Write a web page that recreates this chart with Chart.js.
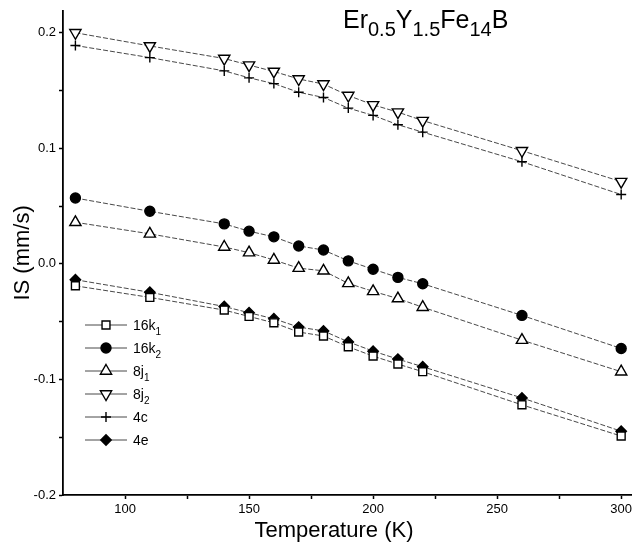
<!DOCTYPE html>
<html lang="en">
<head>
  <meta charset="UTF-8" />
  <title>Er0.5Y1.5Fe14B – isomer shift</title>
  <script src="https://cdn.jsdelivr.net/npm/chart.js"></script>
  <style>
    body { margin: 0; background: #fff; }
    #wrap { width: 639px; height: 547px; }
  </style>
</head>
<body>
<div id="wrap"><canvas id="isChart" width="639" height="547"></canvas></div>
<script>
  // temperatures (K) and isomer shift (mm/s) per Fe site
  const temps = [80, 110, 140, 150, 160, 170, 180, 190, 200, 210, 220, 260, 300];
  const is16k1 = [-0.019, -0.029, -0.040, -0.0455, -0.051, -0.059, -0.0624, -0.0718, -0.0798, -0.0867, -0.0933, -0.122, -0.149];
  const is16k2 = [0.057, 0.0455, 0.0346, 0.0283, 0.0234, 0.0155, 0.012, 0.0026, -0.0046, -0.0117, -0.0172, -0.0446, -0.0732];
  const is8j1 = [0.036, 0.026, 0.0146, 0.0097, 0.0034, -0.0037, -0.006, -0.0169, -0.0238, -0.030, -0.0375, -0.066, -0.0933];
  const is8j2 = [0.200, 0.1886, 0.1777, 0.172, 0.1665, 0.160, 0.1556, 0.1457, 0.1376, 0.1313, 0.124, 0.0979, 0.0712];
  const is4c = [0.189, 0.1785, 0.167, 0.161, 0.156, 0.1485, 0.144, 0.1348, 0.1285, 0.1204, 0.114, 0.0884, 0.060];
  const is4e = [-0.0137, -0.0246, -0.0369, -0.0423, -0.0475, -0.0547, -0.058, -0.0675, -0.0755, -0.0824, -0.089, -0.116, -0.1448];

  const xTicks = [100, 125, 150, 175, 200, 225, 250, 275, 300];
  const xLabels = [100, 150, 200, 250, 300];
  const yTicks = [-0.2, -0.15, -0.1, -0.05, 0, 0.05, 0.1, 0.15, 0.2];
  const yLabels = [-0.2, -0.1, 0, 0.1, 0.2];

  // label parts: [text, isSubscript]
  const seriesNames = [
    [['16k', 0], ['1', 1]],
    [['16k', 0], ['2', 1]],
    [['8j', 0], ['1', 1]],
    [['8j', 0], ['2', 1]],
    [['4c', 0]],
    [['4e', 0]]
  ];
  const titleParts = [['Er', 0], ['0.5', 1], ['Y', 0], ['1.5', 1], ['Fe', 0], ['14', 1], ['B', 0]];
  const xTitle = 'Temperature (K)';

  const FONT = "'Liberation Sans', Arial, sans-serif";
  Chart.defaults.font.family = FONT;
  Chart.defaults.color = '#000';

  function pts(vals) {
    return temps.map((t, i) => ({ x: t, y: vals[i] }));
  }

  const markers = [
    { pointStyle: 'rect', radius: 5.6, bg: '#fff', rot: 0 },
    { pointStyle: 'circle', radius: 5, bg: '#000', rot: 0 },
    { pointStyle: 'triangle', radius: 6.5, bg: '#fff', rot: 0 },
    { pointStyle: 'triangle', radius: 6.5, bg: '#fff', rot: 180 },
    { pointStyle: 'cross', radius: 5, bg: '#000', rot: 0 },
    { pointStyle: 'rectRot', radius: 5.2, bg: '#000', rot: 0 }
  ];
  const allVals = [is16k1, is16k2, is8j1, is8j2, is4c, is4e];

  const datasets = allVals.map((vals, i) => ({
    label: seriesNames[i].map(p => p[0]).join(''),
    data: pts(vals),
    showLine: true,
    borderColor: '#333',
    borderWidth: 0.9,
    borderDash: [5, 2],
    pointStyle: markers[i].pointStyle,
    pointRadius: markers[i].radius,
    pointRotation: markers[i].rot,
    pointBackgroundColor: markers[i].bg,
    pointBorderColor: '#000',
    pointBorderWidth: 1.4
  }));

  function drawParts(ctx, parts, x, y, size, subSize, subDrop) {
    ctx.textBaseline = 'alphabetic';
    ctx.textAlign = 'left';
    ctx.fillStyle = '#000';
    parts.forEach(p => {
      ctx.font = (p[1] ? subSize : size) + 'px ' + FONT;
      ctx.fillText(p[0], x, y + (p[1] ? subDrop : 0));
      x += ctx.measureText(p[0]).width;
    });
  }

  const extras = {
    id: 'extras',
    afterDraw(chart) {
      const ctx = chart.ctx;
      ctx.save();
      drawParts(ctx, titleParts, 343, 28, 25, 20, 8);

      // x axis title, a bit left of the plot centre as in the original
      ctx.font = '22px ' + FONT;
      ctx.textAlign = 'center';
      ctx.textBaseline = 'middle';
      ctx.fillText(xTitle, 334, 531);

      // legend inside the plot, lower left
      seriesNames.forEach((name, i) => {
        const y = 325 + i * 23;
        ctx.save();
        ctx.strokeStyle = '#333';
        ctx.lineWidth = 0.9;
        ctx.beginPath();
        ctx.moveTo(85, y);
        ctx.lineTo(127, y);
        ctx.stroke();
        ctx.fillStyle = markers[i].bg;
        ctx.strokeStyle = '#000';
        ctx.lineWidth = 1.4;
        Chart.helpers.drawPoint(ctx, {
          pointStyle: markers[i].pointStyle,
          radius: markers[i].radius,
          rotation: markers[i].rot,
          borderWidth: 1.4
        }, 106, y);
        ctx.restore();
        drawParts(ctx, name, 133, y + 5, 14, 10, 5);
      });
      ctx.restore();
    }
  };

  new Chart(document.getElementById('isChart'), {
    type: 'scatter',
    data: { datasets: datasets },
    options: {
      responsive: false,
      animation: false,
      layout: { padding: { top: 8, right: 3.5, left: 0, bottom: 0 } },
      plugins: { legend: { display: false }, tooltip: { enabled: false } },
      scales: {
        x: {
          type: 'linear',
          min: 75,
          max: 304,
          afterBuildTicks: s => { s.ticks = xTicks.map(v => ({ value: v })); },
          afterFit: s => { s.height = 52; },
          ticks: {
            autoSkip: false,
            maxRotation: 0,
            padding: 3,
            font: { size: 13 },
            color: '#000',
            callback: v => (xLabels.includes(v) ? String(v) : '')
          },
          grid: { drawOnChartArea: false, tickLength: 4, tickColor: '#000', tickWidth: 1.5 },
          border: { color: '#000', width: 1.8 }
        },
        y: {
          type: 'linear',
          min: -0.2,
          max: 0.219,
          afterBuildTicks: s => { s.ticks = yTicks.map(v => ({ value: v })); },
          afterFit: s => { s.width = 63; },
          ticks: {
            autoSkip: false,
            padding: 3,
            font: { size: 13 },
            color: '#000',
            callback: v => (yLabels.some(l => Math.abs(l - v) < 1e-9) ? v.toFixed(1) : '')
          },
          grid: { drawOnChartArea: false, tickLength: 4, tickColor: '#000', tickWidth: 1.5 },
          border: { color: '#000', width: 1.8 },
          title: { display: true, text: 'IS (mm/s)', font: { size: 22 }, color: '#000', padding: { top: 10, bottom: 0 } }
        }
      }
    },
    plugins: [extras]
  });
</script>
</body>
</html>
